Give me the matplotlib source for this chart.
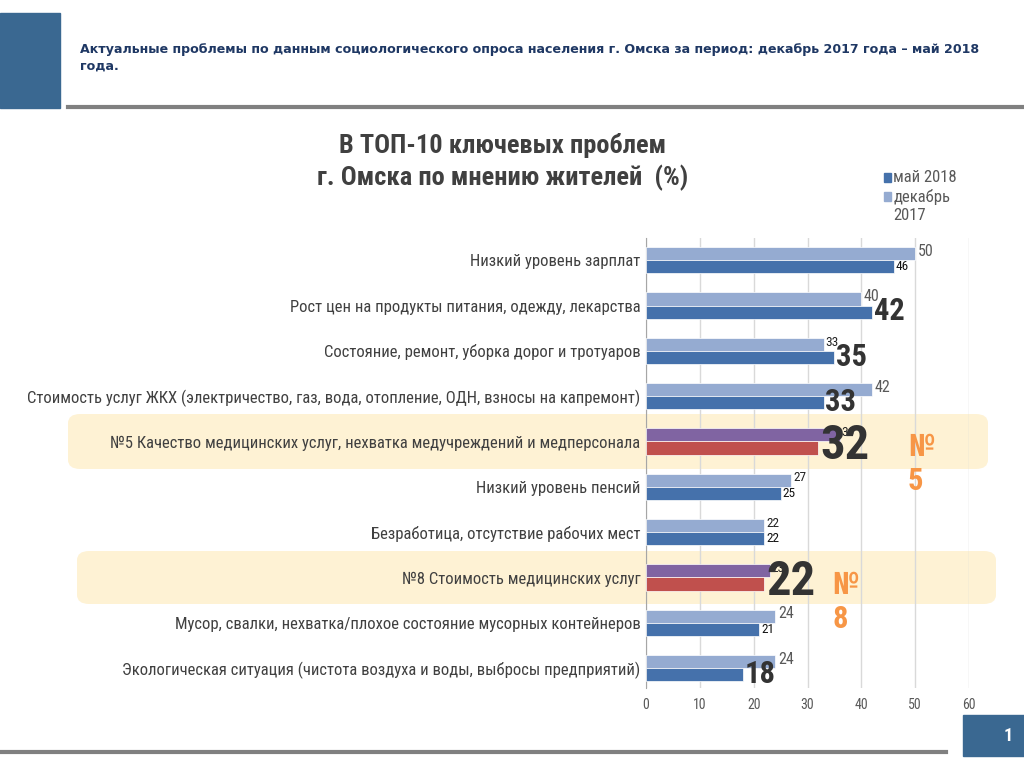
import matplotlib
matplotlib.use("Agg")
import matplotlib.pyplot as plt
from matplotlib import font_manager
from matplotlib.patches import FancyBboxPatch, Rectangle
import numpy as np

categories = [
    "Низкий уровень зарплат",
    "Рост цен на продукты питания, одежду, лекарства",
    "Состояние, ремонт, уборка дорог и тротуаров",
    "Стоимость услуг ЖКХ (электричество, газ, вода, отопление, ОДН, взносы на капремонт)",
    "№5 Качество медицинских услуг, нехватка медучреждений и медперсонала",
    "Низкий уровень пенсий",
    "Безработица, отсутствие рабочих мест",
    "№8 Стоимость медицинских услуг",
    "Мусор, свалки, нехватка/плохое состояние мусорных контейнеров",
    "Экологическая ситуация (чистота воздуха и воды, выбросы предприятий)",
]
dec_2017 = [50, 40, 33, 42, 36, 27, 22, 23, 24, 24]
may_2018 = [46, 42, 35, 33, 32, 25, 22, 22, 21, 18]
x_ticks = [0, 10, 20, 30, 40, 50, 60]
series_names = ["май 2018", "декабрь", "2017"]
highlight_rows = [4, 7]
highlight_marks = ["№\n5", "№\n8"]

# label styles (presentation only)
dec_style = ["g", "g", "s", "g", "s", "s", "s", "s", "g", "g"]
may_style = ["s", "B", "B", "B", "H", "s", "s", "H", "s", "B"]

available = {f.name for f in font_manager.fontManager.ttflist}
cands = ["Roboto Condensed", "Open Sans Condensed", "Liberation Sans Narrow",
         "DejaVu Sans Condensed", "Noto Sans", "DejaVu Sans"]
FONT = next(c for c in cands if c in available)
plt.rcParams["font.family"] = [FONT, "DejaVu Sans"]
narrow = FONT in ("Roboto Condensed", "Open Sans Condensed", "Liberation Sans Narrow", "DejaVu Sans Condensed")

fig = plt.figure(figsize=(10.24, 7.68), dpi=100)

# header decorations
fig.patches.append(Rectangle((0, 1 - 108 / 768), 60 / 1024, 95 / 768,
                             transform=fig.transFigure, color="#3A6891", zorder=1))
fig.add_artist(plt.Line2D([68 / 1024, 1], [1 - 107 / 768] * 2, transform=fig.transFigure,
                          color="#808080", lw=3))
fig.text(80 / 1024, 1 - 50 / 768,
         "Актуальные проблемы по данным социологического опроса населения г. Омска за период: декабрь 2017 года – май 2018",
         fontsize=9.05, fontweight="bold", color="#1F3864", va="center", ha="left", family="DejaVu Sans")
fig.text(80 / 1024, 1 - 66 / 768, "года.", fontsize=9.05, fontweight="bold",
         color="#1F3864", va="center", ha="left", family="DejaVu Sans")

# footer
fig.add_artist(plt.Line2D([0, 946 / 1024], [1 - 752 / 768] * 2, transform=fig.transFigure,
                          color="#808080", lw=3))
fig.patches.append(Rectangle((963 / 1024, 1 - 756 / 768), 61 / 1024, 41 / 768,
                             transform=fig.transFigure, color="#3A6891", zorder=1))
fig.text(1008 / 1024, 1 - 736 / 768, "1", color="white", fontsize=13, fontweight="bold",
         ha="center", va="center")

# title
tsize = 19 if narrow else 15
fig.text(503 / 1024, 1 - 146 / 768, "В ТОП-10 ключевых проблем", fontsize=tsize,
         fontweight="bold", color="#404040", ha="center", va="center")
fig.text(503 / 1024, 1 - 178 / 768, "г. Омска по мнению жителей  (%)", fontsize=tsize,
         fontweight="bold", color="#404040", ha="center", va="center")

# highlight boxes
boxes = [(68, 414, 988, 469), (77, 551, 996, 604)]
for (x0, y0, x1, y1) in boxes:
    fig.patches.append(FancyBboxPatch((x0 / 1024, 1 - y1 / 768), (x1 - x0) / 1024, (y1 - y0) / 768,
                                      boxstyle="round,pad=0,rounding_size=0.012",
                                      transform=fig.transFigure, facecolor="#FEF2D4",
                                      edgecolor="none", zorder=-5))

ax = fig.add_axes([646 / 1024, 1 - 688 / 768, 323 / 1024, 450 / 768])
ax.set_zorder(2)
ax.patch.set_alpha(0)
n = len(categories)
y = np.arange(n)
h = 0.29
dec_colors = ["#8064A2" if i in highlight_rows else "#95ABD1" for i in range(n)]
may_colors = ["#C0504D" if i in highlight_rows else "#4571AB" for i in range(n)]
ax.barh(y - h / 2, dec_2017, height=h, color=dec_colors, edgecolor="white", linewidth=0.5, zorder=3)
ax.barh(y + h / 2, may_2018, height=h, color=may_colors, edgecolor="white", linewidth=0.5, zorder=3)

ax.set_xlim(0, 60)
ax.set_ylim(n - 1 + 0.44, -0.49)
ax.set_xticks(x_ticks)
ax.set_xticklabels([str(t) for t in x_ticks])
ax.tick_params(axis="x", length=0, labelsize=10, labelcolor="#595959", pad=7)
ax.set_yticks(y)
ax.set_yticklabels(categories)
ax.tick_params(axis="y", length=0, labelsize=12 if narrow else 9.6, labelcolor="#404040", pad=4)
ax.grid(axis="x", color="#D9D9D9", lw=1, zorder=0)
for s in ["top", "right", "bottom"]:
    ax.spines[s].set_visible(False)
ax.spines["left"].set_color("#A6A6A6")

big = 22 if narrow else 16
huge = 35 if narrow else 24
for i in range(n):
    v = dec_2017[i]
    if dec_style[i] == "g":
        ax.text(v + 0.5, i - h / 2 - 0.05, str(v), fontsize=11.5, color="#595959", va="center", ha="left", zorder=5)
    else:
        ax.text(v + 0.3, i - h / 2 - 0.05, str(v), fontsize=9.5, color="#222222", va="center", ha="left", zorder=5)
    v = may_2018[i]
    st = may_style[i]
    if st == "s":
        ax.text(v + 0.4, i + h / 2, str(v), fontsize=9.5, color="#111111", va="center", ha="left", zorder=5)
    elif st == "B":
        ax.text(v + 0.3, i + h / 2 - 0.02, str(v), fontsize=big, fontweight="bold", color="#333333",
                va="center", ha="left", zorder=6)
    else:
        ax.text(v + 0.3, i + 0.1, str(v), fontsize=huge, fontweight="bold", color="#333333",
                va="center", ha="left", zorder=6)

# № marks
fig.text(908 / 1024, 1 - 464 / 768, highlight_marks[0], fontsize=22, fontweight="bold", color="#F79646",
         ha="left", va="center", linespacing=1.2)
fig.text(832 / 1024, 1 - 602 / 768, highlight_marks[1], fontsize=22, fontweight="bold", color="#F79646",
         ha="left", va="center", linespacing=1.2)

# legend
lg_x = 884 / 1024
lsize = 12 if narrow else 10.5
fig.patches.append(Rectangle((lg_x, 1 - 182 / 768), 7 / 1024, 9 / 768, transform=fig.transFigure,
                             color="#4571AB"))
fig.patches.append(Rectangle((lg_x, 1 - 201 / 768), 7 / 1024, 9 / 768, transform=fig.transFigure,
                             color="#95ABD1"))
for txt, yy in zip(series_names, [178, 197, 216]):
    fig.text(893 / 1024, 1 - yy / 768, txt, fontsize=lsize, color="#595959", ha="left", va="center")

fig.savefig("out.png", dpi=100)
